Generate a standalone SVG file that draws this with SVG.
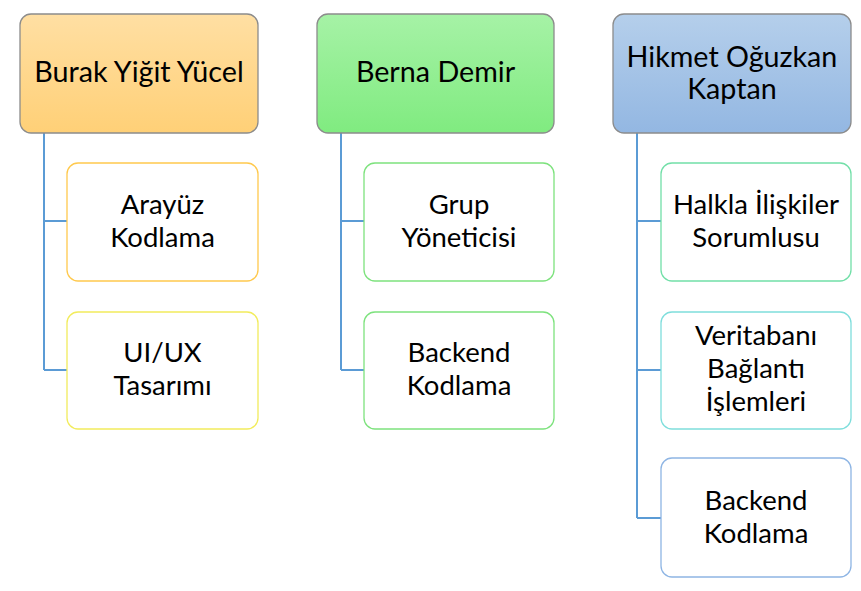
<svg xmlns="http://www.w3.org/2000/svg" width="861" height="591" viewBox="0 0 861 591">
<defs>
<linearGradient id="gO" x1="0" y1="0" x2="0" y2="1"><stop offset="0" stop-color="#FFDFA3"/><stop offset="1" stop-color="#FFD077"/></linearGradient>
<linearGradient id="gG" x1="0" y1="0" x2="0" y2="1"><stop offset="0" stop-color="#A6F2A6"/><stop offset="1" stop-color="#80EB80"/></linearGradient>
<linearGradient id="gB" x1="0" y1="0" x2="0" y2="1"><stop offset="0" stop-color="#B5CFEB"/><stop offset="1" stop-color="#93B7E2"/></linearGradient>
</defs>
<style>
.hd{stroke:#8C8C8C;stroke-width:1.3}
.ch{fill:#FFFFFF;stroke-width:1.3}
.t{font-family:Lato,"Open Sans",sans-serif;fill:#000;text-anchor:middle}
.th{font-size:28.7px}
.tc{font-size:27.5px}
.cn{fill:none;stroke:#5B9BD5;stroke-width:2}
</style>
<rect width="861" height="591" fill="#FFFFFF"/>
<g id="connectors">
<path class="cn" d="M44 133V370M44 221H67M44 370H67"/>
<path class="cn" d="M341 133V370M341 221H364M341 370H364"/>
<path class="cn" d="M637 133V518M637 221H661M637 370H661M637 518H661"/>
</g>
<g id="h1"><rect class="hd" x="20" y="14" width="238" height="119" rx="11" fill="url(#gO)"/><text class="t th" x="139" y="82">Burak Yiğit Yücel</text></g>
<g id="h2"><rect class="hd" x="317" y="14" width="237" height="119" rx="11" fill="url(#gG)"/><text class="t th" x="435.5" y="82">Berna Demir</text></g>
<g id="h3"><rect class="hd" x="613" y="14" width="238" height="119" rx="11" fill="url(#gB)"/><text class="t th" x="732" y="67">Hikmet Oğuzkan</text><text class="t th" x="732" y="99">Kaptan</text></g>
<g id="c1a"><rect class="ch" x="67" y="163" width="191" height="118" rx="11" stroke="#FFC94D"/><text class="t tc" x="162.5" y="214">Arayüz</text><text class="t tc" x="162.5" y="247">Kodlama</text></g>
<g id="c1b"><rect class="ch" x="67" y="312" width="191" height="117" rx="11" stroke="#F2EC5C"/><text class="t tc" x="162.5" y="362">UI/UX</text><text class="t tc" x="162.5" y="395">Tasarımı</text></g>
<g id="c2a"><rect class="ch" x="364" y="163" width="190" height="118" rx="11" stroke="#7DE27D"/><text class="t tc" x="459" y="214">Grup</text><text class="t tc" x="459" y="247">Yöneticisi</text></g>
<g id="c2b"><rect class="ch" x="364" y="312" width="190" height="117" rx="11" stroke="#7DE27D"/><text class="t tc" x="459" y="362">Backend</text><text class="t tc" x="459" y="395">Kodlama</text></g>
<g id="c3a"><rect class="ch" x="661" y="163" width="190" height="118" rx="11" stroke="#72DFA8"/><text class="t tc" x="756" y="214">Halkla İlişkiler</text><text class="t tc" x="756" y="247">Sorumlusu</text></g>
<g id="c3b"><rect class="ch" x="661" y="312" width="190" height="117" rx="11" stroke="#7FDEDC"/><text class="t tc" x="756" y="345">Veritabanı</text><text class="t tc" x="756" y="378">Bağlantı</text><text class="t tc" x="756" y="411">İşlemleri</text></g>
<g id="c3c"><rect class="ch" x="661" y="458" width="190" height="119" rx="11" stroke="#8EB5E4"/><text class="t tc" x="756" y="510">Backend</text><text class="t tc" x="756" y="543">Kodlama</text></g>
</svg>
